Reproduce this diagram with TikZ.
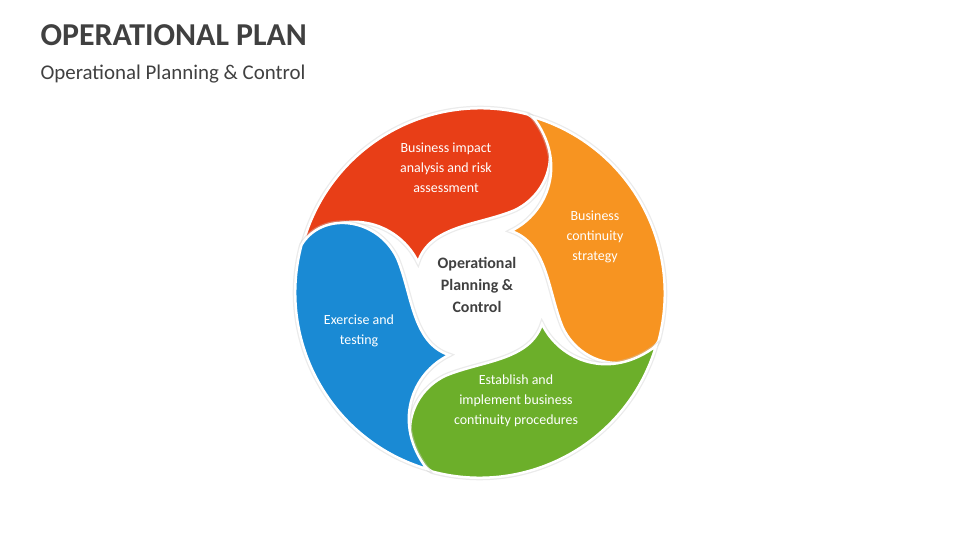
\documentclass[tikz,border=0pt]{standalone}
\usepackage{fontspec}
\setmainfont{Carlito}
\usetikzlibrary{positioning}
\definecolor{segred}{RGB}{232,62,23}
\definecolor{segorange}{RGB}{247,148,33}
\definecolor{seggreen}{RGB}{108,175,42}
\definecolor{segblue}{RGB}{26,138,212}
\definecolor{titlegray}{RGB}{64,64,64}
\tikzset{
  segment/.style={draw=white, line width=2.5bp},
  segshadow/.style={draw=black!20, line width=5bp, fill=black!20},
  segtext/.style={text=white, align=center, font=\fontsize{14}{20}\selectfont},
}
\newcommand{\petal}{(304,240) arc[start angle=-163.5, end angle=-75, radius=184]
  .. controls (562,135) and (556,190) .. (515,210)
  .. controls (480,225) and (430,225) .. (418,262)
  .. controls (400,225) and (350,205) .. cycle}
\begin{document}
\begin{tikzpicture}[x=1bp, y=-1bp]
  \useasboundingbox (0,0) rectangle (960,540);
  \node[anchor=west, text=titlegray, font=\fontsize{32}{32}\selectfont\bfseries] (title) at (37,35) {OPERATIONAL PLAN};
  \node[anchor=west, text=titlegray, font=\fontsize{21}{21}\selectfont] (subtitle) at (37,74) {Operational Planning \& Control};
  % four segments, turned a quarter each
  \foreach \ang/\col in {0/segred, -90/segorange, -180/seggreen, -270/segblue} {
    \begin{scope}[rotate around={\ang:(480,293)}]
      \path[segshadow, opacity=0.4] \petal;
      \path[segment, fill=\col] \petal;
    \end{scope}
  }
  \node[segtext] (impact) at (446,168) {Business impact\\analysis and risk\\assessment};
  \node[segtext] (strategy) at (595,237) {Business\\continuity\\strategy};
  \node[segtext] (procedures) at (516,401) {Establish and\\implement business\\continuity procedures};
  \node[segtext] (testing) at (359,331) {Exercise and\\testing};
  \node[align=center, text=titlegray, font=\fontsize{16}{22}\selectfont\bfseries] (centre) at (477,285) {Operational\\Planning \&\\Control};
\end{tikzpicture}
\end{document}
